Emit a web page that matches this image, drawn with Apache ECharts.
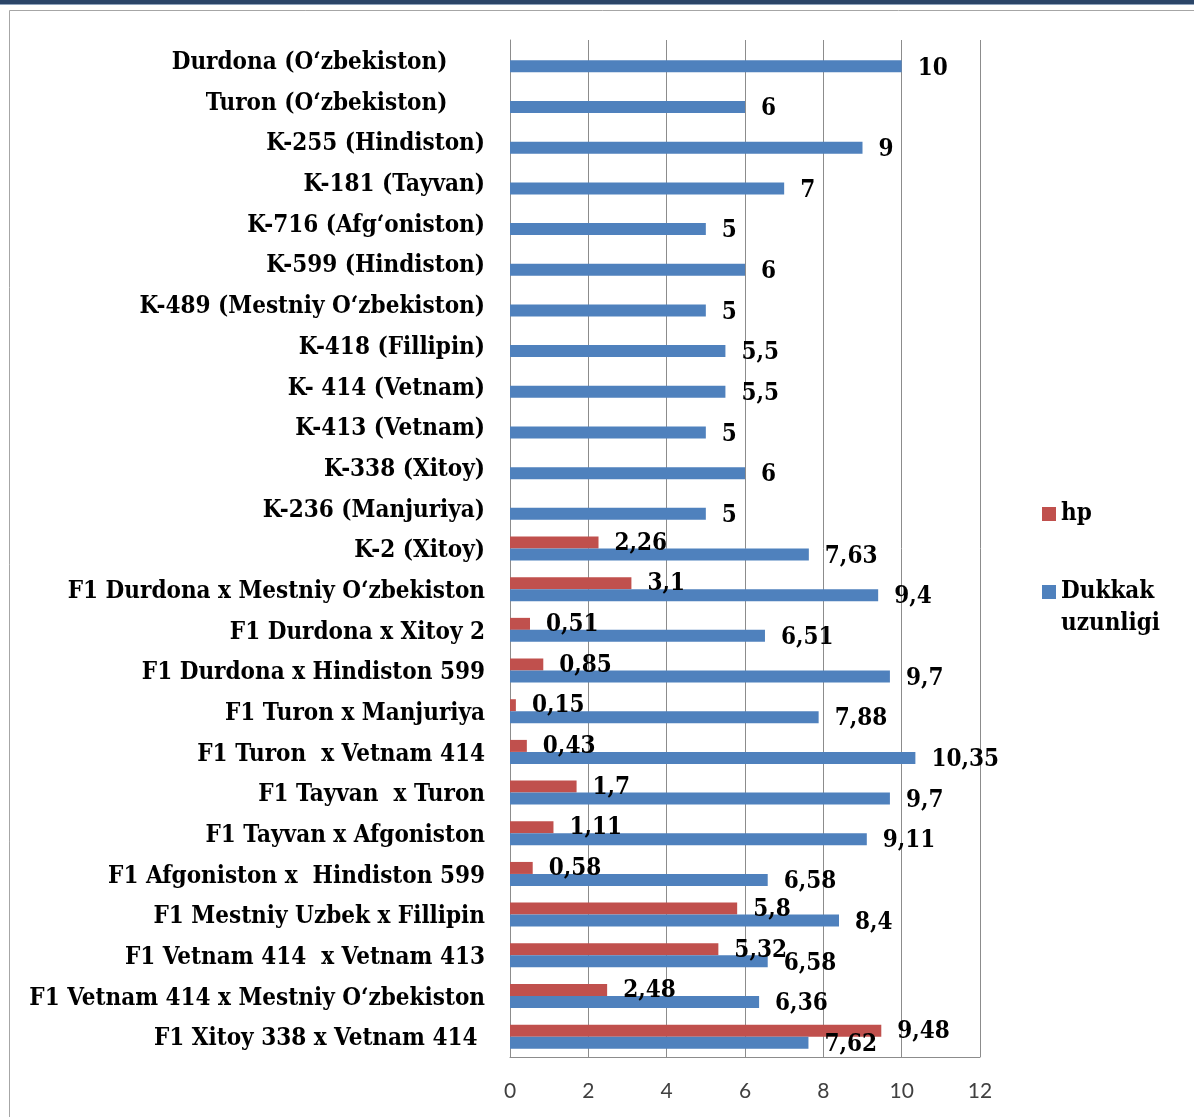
<!DOCTYPE html>
<html>
<head>
<meta charset="utf-8">
<script src="https://cdn.jsdelivr.net/npm/echarts@6/dist/echarts.min.js"></script>
<style>
  html, body { margin: 0; padding: 0; background: #fff; }
  #chart { width: 1194px; height: 1117px; }
</style>
</head>
<body>
<div id="chart"></div>
<script>
// Navlar va duragaylar (yuqoridan pastga)
const categories = [
  'Durdona (O‘zbekiston)     ',
  'Turon (O‘zbekiston)     ',
  'K-255 (Hindiston)',
  'K-181 (Tayvan)',
  'K-716 (Afg‘oniston)',
  'K-599 (Hindiston)',
  'K-489 (Mestniy O‘zbekiston)',
  'K-418 (Fillipin)',
  'K- 414 (Vetnam)',
  'K-413 (Vetnam)',
  'K-338 (Xitoy)',
  'K-236 (Manjuriya)',
  'K-2 (Xitoy)',
  'F1 Durdona x Mestniy O‘zbekiston',
  'F1 Durdona x Xitoy 2',
  'F1 Durdona x Hindiston 599',
  'F1 Turon x Manjuriya',
  'F1 Turon  x Vetnam 414',
  'F1 Tayvan  x Turon',
  'F1 Tayvan x Afgoniston',
  'F1 Afgoniston x  Hindiston 599',
  'F1 Mestniy Uzbek x Fillipin',
  'F1 Vetnam 414  x Vetnam 413',
  'F1 Vetnam 414 x Mestniy O‘zbekiston',
  'F1 Xitoy 338 x Vetnam 414 '
];

// hp (ota-onalik navlarida qiymat yo'q)
const hpValues = [
  null, null, null, null, null, null, null, null, null, null, null, null,
  2.26, 3.1, 0.51, 0.85, 0.15, 0.43, 1.7, 1.11, 0.58, 5.8, 5.32, 2.48, 9.48
];

// Dukkak uzunligi
const lengthValues = [
  10, 6, 9, 7, 5, 6, 5, 5.5, 5.5, 5, 6, 5,
  7.63, 9.4, 6.51, 9.7, 7.88, 10.35, 9.7, 9.11, 6.58, 8.4, 6.58, 6.36, 7.62
];

const xTicks = { min: 0, max: 12, interval: 2 };

const SERIF = '"DejaVu Serif Condensed", "Liberation Serif", serif';
const labelFont = { fontFamily: SERIF, fontWeight: 'bold', fontSize: 24, color: '#000' };

const toComma = p => (p.value == null || p.value === '-') ? '' : String(p.value).replace('.', ',');

const chart = echarts.init(document.getElementById('chart'), null, { renderer: 'canvas' });

chart.setOption({
  animation: false,
  backgroundColor: '#fff',
  grid: { left: 510, right: 214, top: 40, bottom: 60, containLabel: false },
  graphic: [
    { type: 'rect', shape: { x: 0, y: 0, width: 1194, height: 4 }, style: { fill: '#2B4568' }, silent: true },
    { type: 'rect', shape: { x: 0, y: 4, width: 1194, height: 1 }, style: { fill: '#8FA3BC' }, silent: true },
    { type: 'rect', shape: { x: 9.5, y: 10.5, width: 1400, height: 1400 }, style: { fill: 'none', stroke: '#A6A6A6', lineWidth: 1 }, silent: true }
  ],
  legend: [
    {
      data: ['hp'],
      orient: 'vertical',
      left: 1037, top: 497,
      icon: 'rect',
      itemWidth: 14, itemHeight: 14,
      textStyle: { fontFamily: SERIF, fontWeight: 'bold', fontSize: 24, color: '#000' }
    },
    {
      data: ['Dukkak uzunligi'],
      orient: 'vertical',
      left: 1037, top: 539,
      icon: 'rect',
      itemWidth: 14, itemHeight: 14,
      // blank first line keeps the marker level with "Dukkak"
      formatter: () => '\nDukkak\nuzunligi',
      textStyle: { fontFamily: SERIF, fontWeight: 'bold', fontSize: 24, lineHeight: 32, color: '#000' }
    }
  ],
  xAxis: {
    type: 'value',
    min: xTicks.min, max: xTicks.max, interval: xTicks.interval,
    axisLine: { show: true, lineStyle: { color: '#8C8C8C', width: 1 } },
    axisTick: { show: false },
    axisLabel: { margin: 24, fontFamily: 'Lato, "Liberation Sans", sans-serif', fontSize: 21, color: '#404040' },
    splitLine: { show: true, lineStyle: { color: '#8C8C8C', width: 1 } }
  },
  yAxis: {
    type: 'category',
    inverse: true,
    data: categories,
    axisLine: { show: true, lineStyle: { color: '#8C8C8C', width: 1 } },
    axisTick: { show: false },
    axisLabel: {
      margin: 25,
      formatter: v => '{c|' + v + '}',
      rich: { c: Object.assign({ padding: [5, 0, 0, 0] }, labelFont) }
    }
  },
  series: [
    {
      name: 'hp',
      type: 'bar',
      data: hpValues,
      barWidth: 12,
      barGap: '0%',
      itemStyle: { color: '#C0504D' },
      label: Object.assign({ show: true, position: 'right', distance: 16, offset: [0, 1], formatter: toComma }, labelFont)
    },
    {
      name: 'Dukkak uzunligi',
      type: 'bar',
      data: lengthValues,
      barWidth: 12,
      barGap: '0%',
      itemStyle: { color: '#4F81BD' },
      label: Object.assign({ show: true, position: 'right', distance: 16, offset: [0, 2], formatter: toComma }, labelFont)
    }
  ]
});
</script>
</body>
</html>
